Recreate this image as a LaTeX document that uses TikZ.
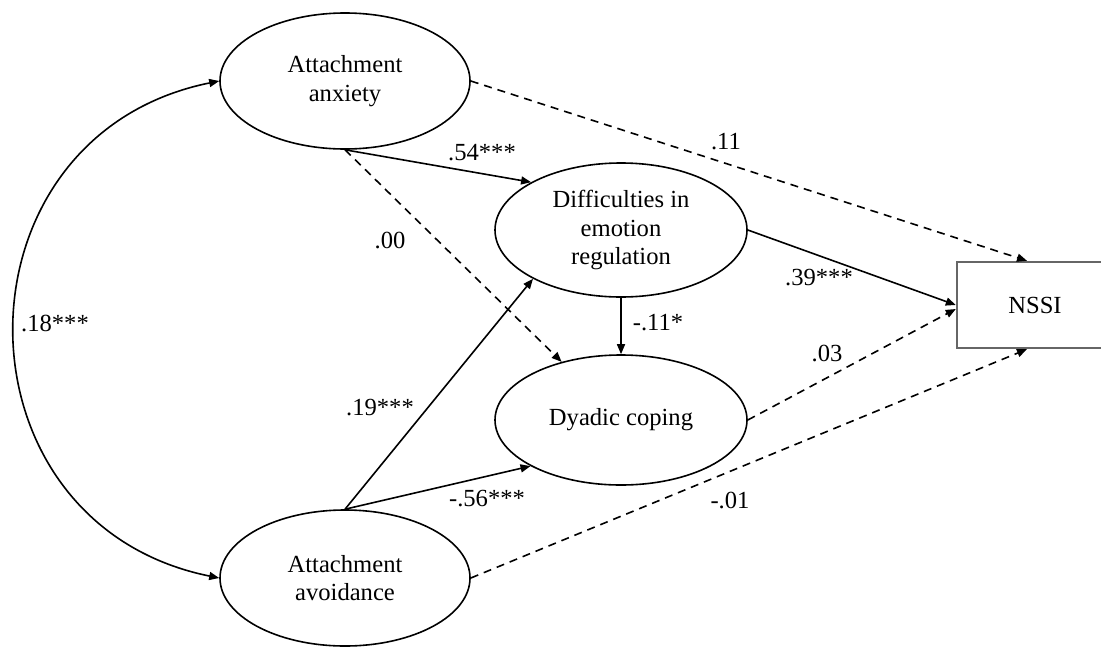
\documentclass[tikz,border=0pt]{standalone}
\usepackage{fontspec}
\setmainfont{Liberation Serif}
\usetikzlibrary{arrows.meta,shapes.geometric,calc}
\begin{document}
\begin{tikzpicture}[x=0.5pt,y=-0.5pt,
  txt/.style={font=\fontsize{12.3}{14.3}\selectfont},
  lat/.style={ellipse,draw,line width=0.8pt,inner sep=0pt,align=center,txt},
  lbl/.style={inner sep=0pt,txt},
  arr/.style={line width=0.8pt,-{Triangle[length=5pt,width=4pt]}},
  darr/.style={arr,dash pattern=on 4pt off 3pt},
  cov/.style={line width=0.8pt,{Triangle[length=5pt,width=4pt]}-{Triangle[length=5pt,width=4pt]}}]
\useasboundingbox (0,0) rectangle (1101,648);
\clip (0,0) rectangle (1101,648);
% nodes
\node[lat,minimum width=125pt,minimum height=68pt] (anx) at (345,81) {Attachment\\anxiety};
\node[lat,minimum width=126pt,minimum height=67pt] (dif) at (621,230) {Difficulties in\\emotion\\regulation};
\node[lat,minimum width=126pt,minimum height=65pt] (dya) at (621,420) {Dyadic coping};
\node[lat,minimum width=125pt,minimum height=68pt] (avo) at (345,578) {Attachment\\avoidance};
\node[draw=black!60,line width=1.2pt,minimum width=78pt,minimum height=43pt,inner sep=0pt,txt] (nssi) at (1035,305) {NSSI};
% connectors
\draw[cov] (anx.west) .. controls (-53,136) and (-53,523) .. (avo.west);
\draw[arr] (anx.south) -- (dif.152);
\draw[darr] (anx.south) -- (dya);
\draw[arr] (avo.north) -- (dif.209);
\draw[arr] (avo.north) -- (dya.207);
\draw[darr] (anx.east) -- ($(nssi.north)+(-4pt,0)$);
\draw[arr] (dif.east) -- (nssi.west);
\draw[darr] (dya.east) -- ($(nssi.west)+(0,-2pt)$);
\draw[darr] (avo.east) -- ($(nssi.south)+(-4pt,0)$);
\draw[arr] (dif.south) -- (dya.north);
% labels
\node[lbl] (l18) at (55,323) {.18***};
\node[lbl] (l54) at (482,153) {.54***};
\node[lbl] (l00) at (390,240) {.00};
\node[lbl] (l19) at (380,408) {.19***};
\node[lbl] (l56) at (487,499) {-.56***};
\node[lbl] (l11) at (726,142) {.11};
\node[lbl] (l39) at (819,278) {.39***};
\node[lbl] (l03) at (827,353) {.03};
\node[lbl] (l01) at (730,500) {-.01};
\node[lbl] (l11s) at (658,323) {-.11*};
\end{tikzpicture}
\end{document}
